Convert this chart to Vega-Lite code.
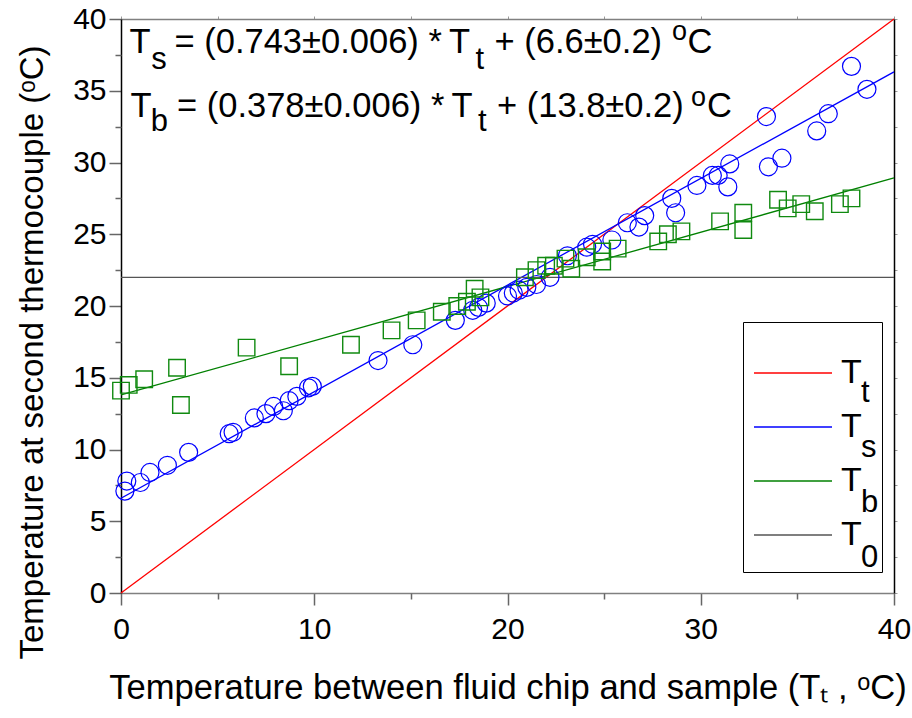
{
  "$schema": "https://vega.github.io/schema/vega-lite/v6.json",
  "width": 773,
  "height": 574,
  "autosize": {"type": "none"},
  "padding": {"left": 121, "top": 19, "right": 18, "bottom": 125},
  "background": "white",
  "config": {
    "view": {"stroke": null},
    "font": "Liberation Sans",
    "axis": {"grid": false, "labelColor": "black", "titleColor": "black", "titleFontWeight": "normal", "labelFont": "Liberation Sans", "titleFont": "Liberation Sans"},
    "legend": {"labelFont": "Liberation Sans", "labelColor": "black"}
  },
  "datasets": {
    "lines": [
      {"series": "Tt", "sub": "t", "x": 0, "y": 0},
      {"series": "Tt", "sub": "t", "x": 40, "y": 40},
      {"series": "Ts", "sub": "s", "x": 0, "y": 6.6},
      {"series": "Ts", "sub": "s", "x": 40, "y": 36.32},
      {"series": "Tb", "sub": "b", "x": 0, "y": 13.8},
      {"series": "Tb", "sub": "b", "x": 40, "y": 28.92},
      {"series": "T0", "sub": "0", "x": 0, "y": 22},
      {"series": "T0", "sub": "0", "x": 40, "y": 22}
    ],
    "ts": [
      {"x": 0.2, "y": 7.1}, {"x": 0.3, "y": 7.8}, {"x": 1.0, "y": 7.7}, {"x": 1.5, "y": 8.4},
      {"x": 2.4, "y": 8.9}, {"x": 3.5, "y": 9.8}, {"x": 5.6, "y": 11.1}, {"x": 5.8, "y": 11.2},
      {"x": 6.9, "y": 12.2}, {"x": 7.5, "y": 12.5}, {"x": 7.9, "y": 13.0}, {"x": 8.4, "y": 12.7},
      {"x": 8.7, "y": 13.4}, {"x": 9.1, "y": 13.7}, {"x": 9.7, "y": 14.3}, {"x": 9.9, "y": 14.4},
      {"x": 13.3, "y": 16.2}, {"x": 15.1, "y": 17.3}, {"x": 17.3, "y": 19.0}, {"x": 18.2, "y": 19.7},
      {"x": 18.5, "y": 19.9}, {"x": 18.9, "y": 20.2}, {"x": 20.0, "y": 20.7}, {"x": 20.3, "y": 20.9},
      {"x": 20.6, "y": 21.1}, {"x": 21.0, "y": 21.3}, {"x": 21.5, "y": 21.5}, {"x": 22.2, "y": 22.0},
      {"x": 23.1, "y": 23.5}, {"x": 24.1, "y": 24.1}, {"x": 24.4, "y": 24.3}, {"x": 25.4, "y": 24.6},
      {"x": 26.2, "y": 25.8}, {"x": 26.8, "y": 25.5}, {"x": 27.1, "y": 26.3}, {"x": 28.5, "y": 27.5},
      {"x": 28.7, "y": 26.5}, {"x": 29.8, "y": 28.4}, {"x": 30.6, "y": 29.1}, {"x": 30.9, "y": 29.1},
      {"x": 31.4, "y": 28.3}, {"x": 31.5, "y": 29.9}, {"x": 33.4, "y": 33.2}, {"x": 33.5, "y": 29.7},
      {"x": 34.2, "y": 30.3}, {"x": 36.0, "y": 32.2}, {"x": 36.6, "y": 33.4}, {"x": 37.8, "y": 36.7},
      {"x": 38.6, "y": 35.1}
    ],
    "tb": [
      {"x": 0.0, "y": 14.1}, {"x": 0.4, "y": 14.5}, {"x": 1.2, "y": 14.9}, {"x": 2.9, "y": 15.7},
      {"x": 3.1, "y": 13.1}, {"x": 6.5, "y": 17.1}, {"x": 8.7, "y": 15.8}, {"x": 11.9, "y": 17.3},
      {"x": 14.0, "y": 18.3}, {"x": 15.3, "y": 19.0}, {"x": 16.6, "y": 19.6}, {"x": 17.4, "y": 20.0},
      {"x": 17.9, "y": 20.3}, {"x": 18.3, "y": 21.2}, {"x": 18.6, "y": 20.6}, {"x": 20.9, "y": 22.0},
      {"x": 21.5, "y": 22.5}, {"x": 22.0, "y": 22.8}, {"x": 22.4, "y": 22.8}, {"x": 23.0, "y": 23.3},
      {"x": 23.3, "y": 22.6}, {"x": 24.1, "y": 23.4}, {"x": 24.9, "y": 23.8}, {"x": 24.9, "y": 23.1},
      {"x": 25.7, "y": 24.0}, {"x": 27.8, "y": 24.5}, {"x": 28.3, "y": 25.0}, {"x": 29.0, "y": 25.2},
      {"x": 31.0, "y": 25.9}, {"x": 32.2, "y": 26.5}, {"x": 32.2, "y": 25.3}, {"x": 34.0, "y": 27.4},
      {"x": 34.5, "y": 26.8}, {"x": 35.2, "y": 27.1}, {"x": 35.9, "y": 26.6}, {"x": 37.2, "y": 27.1},
      {"x": 37.8, "y": 27.5}
    ],
    "one": [{}]
  },
  "resolve": {"axis": {"x": "independent", "y": "independent"}},
  "layer": [
    {
      "data": {"name": "lines"},
      "mark": {"type": "line", "strokeWidth": 1.3},
      "encoding": {
        "x": {
          "field": "x", "type": "quantitative",
          "scale": {"domain": [0, 40], "nice": false, "zero": false},
          "axis": {
            "orient": "bottom", "values": [0, 10, 20, 30, 40], "tickSize": 12, "tickColor": "#666666", "tickWidth": 1.5,
            "domainColor": "#808080", "domainWidth": 1.5, "labelFontSize": 30, "labelPadding": 9,
            "labelFlush": false, "labelOverlap": false,
            "title": "Temperature between fluid chip and sample (Tₜ , ᵒC)", "titleFontSize": 34.6, "titlePadding": 27
          }
        },
        "y": {
          "field": "y", "type": "quantitative",
          "scale": {"domain": [0, 40], "nice": false},
          "axis": {
            "orient": "left", "values": [0, 5, 10, 15, 20, 25, 30, 35, 40], "tickSize": 12, "tickColor": "#666666", "tickWidth": 1.5,
            "domainColor": "black", "domainWidth": 1.5, "labelFontSize": 30, "labelPadding": 3,
            "labelFlush": false, "labelOverlap": false,
            "title": "Temperature at second thermocouple (ᵒC)", "titleFontSize": 33, "titlePadding": 23, "titleY": 333
          }
        },
        "color": {
          "field": "series", "type": "nominal",
          "scale": {"domain": ["Tt", "Ts", "Tb", "T0"], "range": ["#ff0000", "#0000ff", "#008000", "#555555"]},
          "legend": {
            "orient": "none", "legendX": 622, "legendY": 303, "title": " ", "titleFontSize": 6, "titlePadding": 8,
            "labelExpr": "'T'", "labelFontSize": 34, "labelBaseline": "middle", "labelOffset": 44,
            "symbolType": "M-2,0H4", "symbolSize": 676, "symbolStrokeWidth": 1.3,
            "strokeColor": "black", "fillColor": "white", "padding": 20, "rowPadding": 20
          }
        },
        "opacity": {
          "field": "sub", "type": "nominal",
          "scale": {"domain": ["t", "s", "b", "0"], "range": [1, 1, 1, 1]},
          "legend": {
            "orient": "none", "legendX": 709, "legendY": 358, "title": null,
            "labelFontSize": 31, "labelBaseline": "middle", "labelOffset": 0,
            "symbolType": "stroke", "symbolSize": 4, "symbolOpacity": 0, "symbolStrokeColor": "transparent",
            "padding": 0, "rowPadding": 23
          }
        }
      }
    },
    {
      "data": {"name": "ts"},
      "mark": {"type": "point", "shape": "circle", "filled": false, "size": 324, "strokeWidth": 1.2, "color": "#0000ff", "opacity": 1},
      "encoding": {
        "x": {
          "field": "x", "type": "quantitative", "scale": {"domain": [0, 40], "nice": false, "zero": false},
          "axis": {"orient": "bottom", "values": [5, 15, 25, 35], "tickSize": 6, "tickColor": "#666666", "tickWidth": 1.5, "labels": false, "domain": false, "title": null}
        },
        "y": {
          "field": "y", "type": "quantitative", "scale": {"domain": [0, 40], "nice": false},
          "axis": {"orient": "left", "values": [2.5, 7.5, 12.5, 17.5, 22.5, 27.5, 32.5, 37.5], "tickSize": 6, "tickColor": "#666666", "tickWidth": 1.5, "labels": false, "domain": false, "title": null}
        }
      }
    },
    {
      "data": {"name": "tb"},
      "mark": {"type": "point", "shape": "square", "filled": false, "size": 272, "strokeWidth": 1.4, "color": "#108a10", "opacity": 1},
      "encoding": {
        "x": {
          "field": "x", "type": "quantitative", "scale": {"domain": [0, 40], "nice": false, "zero": false},
          "axis": {"orient": "top", "values": [0, 5, 10, 15, 20, 25, 30, 35, 40], "tickSize": 3, "tickColor": "#999999", "labels": false, "domainColor": "#808080", "domainWidth": 1.5, "title": null}
        },
        "y": {
          "field": "y", "type": "quantitative", "scale": {"domain": [0, 40], "nice": false},
          "axis": {"orient": "right", "values": [0, 2.5, 5, 7.5, 10, 12.5, 15, 17.5, 20, 22.5, 25, 27.5, 30, 32.5, 35, 37.5, 40], "tickSize": 3, "tickColor": "#999999", "labels": false, "domainColor": "black", "domainWidth": 1.5, "title": null}
        }
      }
    },
    {"data": {"name": "one"}, "mark": {"type": "text", "text": "T", "font": "Liberation Sans", "fontSize": 34.5, "align": "left", "baseline": "alphabetic", "dx": 8.4, "color": "black"},
     "encoding": {"x": {"datum": 0, "type": "quantitative", "axis": null}, "y": {"datum": 37.6, "type": "quantitative", "axis": null}}},
    {"data": {"name": "one"}, "mark": {"type": "text", "text": "s", "font": "Liberation Sans", "fontSize": 31, "align": "left", "baseline": "alphabetic", "dx": 30.2, "dy": 15.5, "color": "black"},
     "encoding": {"x": {"datum": 0, "type": "quantitative", "axis": null}, "y": {"datum": 37.6, "type": "quantitative", "axis": null}}},
    {"data": {"name": "one"}, "mark": {"type": "text", "text": "= (0.743±0.006) *", "font": "Liberation Sans", "fontSize": 34.5, "align": "left", "baseline": "alphabetic", "dx": 53.5, "color": "black"},
     "encoding": {"x": {"datum": 0, "type": "quantitative", "axis": null}, "y": {"datum": 37.6, "type": "quantitative", "axis": null}}},
    {"data": {"name": "one"}, "mark": {"type": "text", "text": "T", "font": "Liberation Sans", "fontSize": 34.5, "align": "left", "baseline": "alphabetic", "dx": 328, "color": "black"},
     "encoding": {"x": {"datum": 0, "type": "quantitative", "axis": null}, "y": {"datum": 37.6, "type": "quantitative", "axis": null}}},
    {"data": {"name": "one"}, "mark": {"type": "text", "text": "t", "font": "Liberation Sans", "fontSize": 31, "align": "left", "baseline": "alphabetic", "dx": 354.5, "dy": 15.5, "color": "black"},
     "encoding": {"x": {"datum": 0, "type": "quantitative", "axis": null}, "y": {"datum": 37.6, "type": "quantitative", "axis": null}}},
    {"data": {"name": "one"}, "mark": {"type": "text", "text": "+ (6.6±0.2)", "font": "Liberation Sans", "fontSize": 34.5, "align": "left", "baseline": "alphabetic", "dx": 373.5, "color": "black"},
     "encoding": {"x": {"datum": 0, "type": "quantitative", "axis": null}, "y": {"datum": 37.6, "type": "quantitative", "axis": null}}},
    {"data": {"name": "one"}, "mark": {"type": "text", "text": "o", "font": "Liberation Sans", "fontSize": 27, "align": "left", "baseline": "alphabetic", "dx": 551, "dy": -13, "color": "black"},
     "encoding": {"x": {"datum": 0, "type": "quantitative", "axis": null}, "y": {"datum": 37.6, "type": "quantitative", "axis": null}}},
    {"data": {"name": "one"}, "mark": {"type": "text", "text": "C", "font": "Liberation Sans", "fontSize": 34.5, "align": "left", "baseline": "alphabetic", "dx": 566.5, "color": "black"},
     "encoding": {"x": {"datum": 0, "type": "quantitative", "axis": null}, "y": {"datum": 37.6, "type": "quantitative", "axis": null}}},
    {"data": {"name": "one"}, "mark": {"type": "text", "text": "T", "font": "Liberation Sans", "fontSize": 34.5, "align": "left", "baseline": "alphabetic", "dx": 9.4, "color": "black"},
     "encoding": {"x": {"datum": 0, "type": "quantitative", "axis": null}, "y": {"datum": 33.19, "type": "quantitative", "axis": null}}},
    {"data": {"name": "one"}, "mark": {"type": "text", "text": "b", "font": "Liberation Sans", "fontSize": 31, "align": "left", "baseline": "alphabetic", "dx": 29.8, "dy": 14, "color": "black"},
     "encoding": {"x": {"datum": 0, "type": "quantitative", "axis": null}, "y": {"datum": 33.19, "type": "quantitative", "axis": null}}},
    {"data": {"name": "one"}, "mark": {"type": "text", "text": "= (0.378±0.006) *", "font": "Liberation Sans", "fontSize": 34.5, "align": "left", "baseline": "alphabetic", "dx": 56, "color": "black"},
     "encoding": {"x": {"datum": 0, "type": "quantitative", "axis": null}, "y": {"datum": 33.19, "type": "quantitative", "axis": null}}},
    {"data": {"name": "one"}, "mark": {"type": "text", "text": "T", "font": "Liberation Sans", "fontSize": 34.5, "align": "left", "baseline": "alphabetic", "dx": 330.5, "color": "black"},
     "encoding": {"x": {"datum": 0, "type": "quantitative", "axis": null}, "y": {"datum": 33.19, "type": "quantitative", "axis": null}}},
    {"data": {"name": "one"}, "mark": {"type": "text", "text": "t", "font": "Liberation Sans", "fontSize": 31, "align": "left", "baseline": "alphabetic", "dx": 357, "dy": 14, "color": "black"},
     "encoding": {"x": {"datum": 0, "type": "quantitative", "axis": null}, "y": {"datum": 33.19, "type": "quantitative", "axis": null}}},
    {"data": {"name": "one"}, "mark": {"type": "text", "text": "+ (13.8±0.2)", "font": "Liberation Sans", "fontSize": 34.5, "align": "left", "baseline": "alphabetic", "dx": 376, "color": "black"},
     "encoding": {"x": {"datum": 0, "type": "quantitative", "axis": null}, "y": {"datum": 33.19, "type": "quantitative", "axis": null}}},
    {"data": {"name": "one"}, "mark": {"type": "text", "text": "o", "font": "Liberation Sans", "fontSize": 27, "align": "left", "baseline": "alphabetic", "dx": 570, "dy": -11, "color": "black"},
     "encoding": {"x": {"datum": 0, "type": "quantitative", "axis": null}, "y": {"datum": 33.19, "type": "quantitative", "axis": null}}},
    {"data": {"name": "one"}, "mark": {"type": "text", "text": "C", "font": "Liberation Sans", "fontSize": 34.5, "align": "left", "baseline": "alphabetic", "dx": 586, "color": "black"},
     "encoding": {"x": {"datum": 0, "type": "quantitative", "axis": null}, "y": {"datum": 33.19, "type": "quantitative", "axis": null}}}
  ]
}
